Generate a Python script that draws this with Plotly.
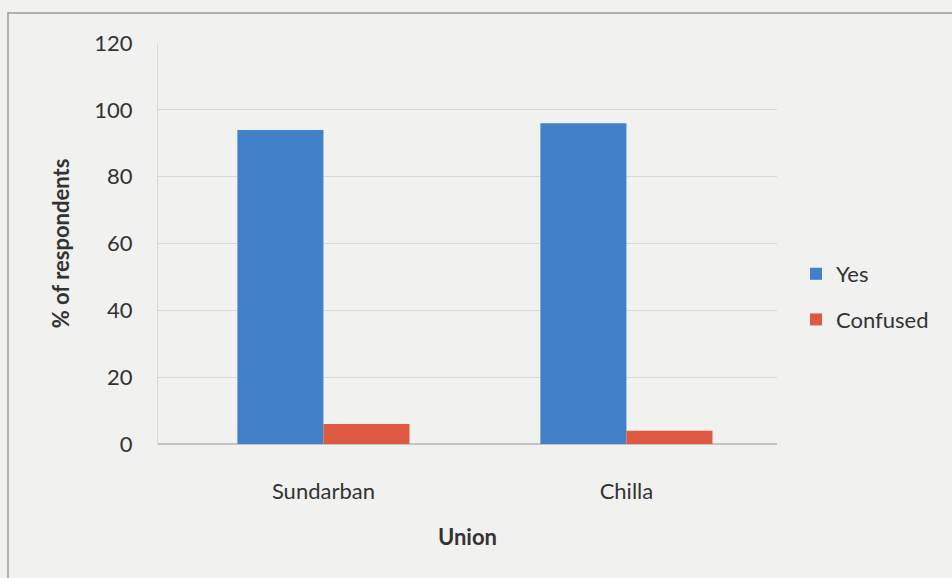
import plotly.graph_objects as go

categories = ["Sundarban", "Chilla"]
yes_values = [94, 96]
confused_values = [6, 4]
series_names = ["Yes", "Confused"]
y_ticks = [0, 20, 40, 60, 80, 100, 120]

L, R, T, B = 158, 952 - 777, 43, 578 - 444
W, H = 952, 578
pw, ph = W - L - R, H - T - B

fig = go.Figure()
fig.add_trace(go.Bar(x=categories, y=yes_values, name=series_names[0],
                     marker=dict(color="#4281c9", line=dict(width=0)),
                     legendgroup="a"))
fig.add_trace(go.Bar(x=categories, y=confused_values, name=series_names[1],
                     marker=dict(color="#dd5942", line=dict(width=0)),
                     legendgroup="b"))

font = "Lato, 'Open Sans', sans-serif"
fig.update_layout(
    width=W, height=H,
    margin=dict(l=L, r=R, t=T, b=B),
    paper_bgcolor="#f1f1ef", plot_bgcolor="#f1f1ef",
    barmode="group", bargap=0.432, bargroupgap=0,
    font=dict(family=font, size=22, color="#333333"),
    legend=dict(x=(796 - L) / pw, y=(444 - 253) / ph, xanchor="left", yanchor="top",
                tracegroupgap=14, itemwidth=30, font=dict(size=22, color="#333333"),
                bgcolor="rgba(0,0,0,0)"),
    xaxis=dict(showgrid=False, showline=False, ticks="",
               range=[-0.546, 1.497], ticklabelstandoff=32,
               title=dict(text="<b>Union</b>", font=dict(size=22), standoff=26),
               tickfont=dict(size=22)),
    yaxis=dict(range=[0, 120], tickvals=y_ticks, showgrid=True, gridcolor="#d8d8d6",
               gridwidth=1, zeroline=True, zerolinecolor="#c4c4c2",
               showline=True, linecolor="#d8d8d6", ticks="", ticklen=0,
               ticklabelstandoff=20, tickfont=dict(size=22),
               title=dict(text="<b>% of respondents</b>", font=dict(size=22), standoff=18)),
    shapes=[dict(type="rect", xref="paper", yref="paper",
                 x0=(8 - L) / pw, x1=(970 - L) / pw,
                 y0=(444 - 600) / ph, y1=(444 - 13) / ph,
                 line=dict(color="#9a9a9a", width=1.5), fillcolor="rgba(0,0,0,0)")],
)
fig.write_html("out.html")
